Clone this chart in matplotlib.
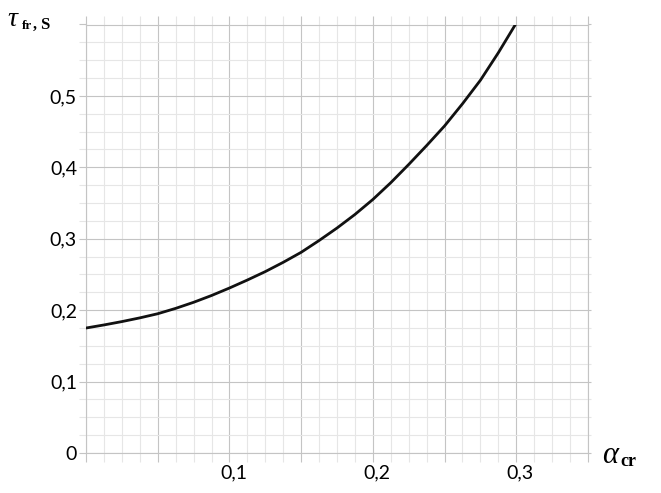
import numpy as np
import matplotlib.pyplot as plt
import matplotlib.transforms as mtransforms
from matplotlib.ticker import MultipleLocator

# ==========================================================
# Data
# ==========================================================

alpha_cr = [0.0, 0.0125, 0.025, 0.0375, 0.05, 0.0625, 0.075, 0.0875,
            0.1, 0.1125, 0.125, 0.1375, 0.15, 0.1625, 0.175, 0.1875,
            0.2, 0.2125, 0.225, 0.2375, 0.25, 0.2625, 0.275, 0.2875, 0.3]
tau_fr = [0.175, 0.1793, 0.184, 0.1892, 0.195, 0.2025, 0.211, 0.2205,
          0.231, 0.2422, 0.254, 0.267, 0.281, 0.2975, 0.315, 0.334,
          0.355, 0.3785, 0.404, 0.4305, 0.458, 0.489, 0.522, 0.5605, 0.602]

x_tick_values = [0.1, 0.2, 0.3]
x_tick_labels = ["0,1", "0,2", "0,3"]
y_tick_values = [0.0, 0.1, 0.2, 0.3, 0.4, 0.5]
y_tick_labels = ["0", "0,1", "0,2", "0,3", "0,4", "0,5"]

# ==========================================================
# Figure
# ==========================================================

W, H = 661, 493
fig = plt.figure(figsize=(W / 100, H / 100), dpi=100)
ax = fig.add_axes([86 / W, 40 / H, 502 / W, 428.5 / H])

major_col = "#c4c4c4"
minor_col = "#e6e6e6"

ax.plot(alpha_cr, tau_fr, color="#111111", linewidth=2.0, zorder=5,
        solid_capstyle="round", solid_joinstyle="round")

ax.set_xlim(0, 0.35)
ax.set_ylim(0, 0.6)

ax.xaxis.set_major_locator(MultipleLocator(0.05))
ax.xaxis.set_minor_locator(MultipleLocator(0.0125))
ax.yaxis.set_major_locator(MultipleLocator(0.1))
ax.yaxis.set_minor_locator(MultipleLocator(0.025))

ax.grid(which="major", color=major_col, linewidth=0.8)
ax.grid(which="minor", color=minor_col, linewidth=0.8)
ax.set_axisbelow(True)

for s in ax.spines.values():
    s.set_color(major_col)
    s.set_linewidth(0.8)

# tick marks act as the little grid-line overhangs
ax.tick_params(axis="x", which="both", direction="out", bottom=True, top=True,
               length=6.5, width=0.8, color=minor_col, pad=2)
ax.tick_params(axis="x", which="major", color=major_col)
ax.tick_params(axis="y", which="both", direction="out", left=True, right=True,
               length=5, width=0.8, color=minor_col, pad=1.5)
ax.tick_params(axis="y", which="major", color=major_col)
for t in ax.yaxis.get_minor_ticks() + ax.yaxis.get_major_ticks():
    t.tick2line.set_markersize(2)

xt = np.arange(0, 0.3501, 0.05)
ax.set_xticks(xt)
ax.set_xticklabels([x_tick_labels[x_tick_values.index(round(v, 2))]
                    if round(v, 2) in x_tick_values else "" for v in xt],
                   fontname="Lato", fontsize=14)
yt = np.arange(0, 0.6001, 0.1)
ax.set_yticks(yt)
ax.set_yticklabels([y_tick_labels[y_tick_values.index(round(v, 1))]
                    if round(v, 1) in y_tick_values else "" for v in yt],
                   fontname="Lato", fontsize=14)

shift = mtransforms.ScaledTranslation(4 / 100, 0, fig.dpi_scale_trans)
for lab in ax.get_xticklabels():
    lab.set_transform(lab.get_transform() + shift)

# axis titles
def px(x, y):
    return x / W, 1 - y / H

serif = "Liberation Serif"
fig.text(*px(7, 26), "\u03c4", family=serif, style="italic",
         fontsize=20, va="baseline")
fig.text(*px(22, 29), "fr", family=serif, weight="bold",
         fontsize=9.5, va="baseline")
fig.text(*px(33, 29), ",", family=serif, weight="bold",
         fontsize=11.5, va="baseline")
fig.text(*px(40, 29), "S", family=serif, weight="bold",
         fontsize=12, va="baseline")

fig.text(*px(602, 463), "\u03b1", family=serif, style="italic",
         fontsize=22, va="baseline")
fig.text(*px(620, 466), "cr", family=serif, weight="bold",
         fontsize=13, va="baseline")

fig.savefig("out.png", dpi=100)
